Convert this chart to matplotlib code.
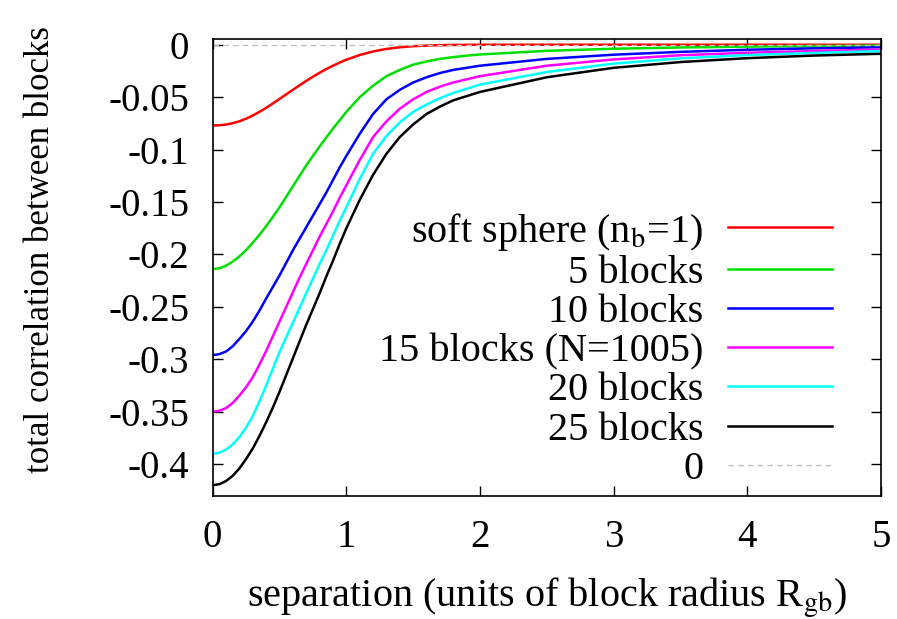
import numpy as np
import matplotlib
matplotlib.use("Agg")
import matplotlib.pyplot as plt

plt.rcParams['font.family'] = ['Liberation Serif', 'DejaVu Serif']
plt.rcParams['mathtext.fontset'] = 'stix'
plt.rcParams['axes.unicode_minus'] = False

# separation in units of block radius R_gb
sep = [0, 0.05, 0.1, 0.15, 0.2, 0.25, 0.3, 0.35, 0.4, 0.45, 0.5, 0.55, 0.6, 0.65,
       0.7, 0.75, 0.8, 0.85, 0.9, 0.95, 1.0,
       1.1, 1.2, 1.3, 1.4, 1.5, 1.6, 1.7, 1.8, 1.9, 2.0,
       2.5, 3.0, 3.5, 4.0, 4.5, 5.0]

soft_sphere = [-0.0770, -0.0768, -0.0761, -0.0748, -0.0730, -0.0705, -0.0675, -0.0640,
               -0.0602, -0.0560, -0.0517, -0.0473, -0.0430, -0.0387, -0.0345, -0.0305,
               -0.0267, -0.0232, -0.0200, -0.0170, -0.0143,
               -0.0098, -0.0064, -0.0040, -0.0024, -0.0014, -0.0008, -0.0004, -0.0002,
               -0.0001, 0,
               0, 0, 0, 0, 0, 0]
blocks_5 = [-0.214, -0.2132, -0.2107, -0.2068, -0.2018, -0.1958, -0.1888, -0.1812,
            -0.1730, -0.1642, -0.155, -0.145, -0.135, -0.125, -0.115, -0.106, -0.097,
            -0.0885, -0.080, -0.072, -0.064,
            -0.050, -0.039, -0.030, -0.024, -0.019, -0.016, -0.0135, -0.0118, -0.0104,
            -0.0093,
            -0.0058, -0.0038, -0.0026, -0.0018, -0.0013, -0.0009]
blocks_10 = [-0.296, -0.295, -0.2925, -0.2875, -0.2805, -0.273, -0.264, -0.2535, -0.242,
             -0.231, -0.220, -0.208, -0.196, -0.185, -0.174, -0.163, -0.152, -0.141,
             -0.129, -0.117, -0.106,
             -0.085, -0.066, -0.052, -0.043, -0.036, -0.031, -0.027, -0.024, -0.022,
             -0.020,
             -0.0135, -0.0095, -0.0068, -0.0048, -0.0034, -0.0024]
blocks_15 = [-0.350, -0.349, -0.3465, -0.3415, -0.3345, -0.3265, -0.317, -0.305, -0.292,
             -0.278, -0.264, -0.250, -0.236, -0.222, -0.209, -0.196, -0.183, -0.171,
             -0.159, -0.146, -0.134,
             -0.110, -0.088, -0.073, -0.061, -0.052, -0.045, -0.040, -0.036, -0.033,
             -0.030,
             -0.020, -0.014, -0.010, -0.0077, -0.006, -0.0046]
blocks_20 = [-0.390, -0.389, -0.386, -0.381, -0.374, -0.365, -0.354, -0.340, -0.325,
             -0.309, -0.293, -0.279, -0.265, -0.251, -0.237, -0.223, -0.209, -0.196,
             -0.182, -0.168, -0.155,
             -0.128, -0.104, -0.087, -0.074, -0.064, -0.057, -0.051, -0.046, -0.042,
             -0.038,
             -0.026, -0.018, -0.013, -0.0098, -0.0078, -0.006]
blocks_25 = [-0.420, -0.419, -0.416, -0.411, -0.404, -0.395, -0.385, -0.373, -0.360,
             -0.346, -0.331, -0.315, -0.299, -0.283, -0.267, -0.252, -0.237, -0.221,
             -0.206, -0.190, -0.175,
             -0.148, -0.124, -0.104, -0.088, -0.076, -0.066, -0.059, -0.053, -0.049,
             -0.045,
             -0.031, -0.022, -0.0165, -0.0128, -0.0103, -0.0086]

series = [soft_sphere, blocks_5, blocks_10, blocks_15, blocks_20, blocks_25]
labels = ["soft sphere (n$_\\mathrm{b}$=1)", "5 blocks", "10 blocks",
          "15 blocks (N=1005)", "20 blocks", "25 blocks"]
colors = ["#ff0000", "#00e000", "#0000ff", "#ff00ff", "#00ffff", "#000000"]

zero_x = [0, 5]
zero_y = [0, 0]

xticks = [0, 1, 2, 3, 4, 5]
yticks = [0, -0.05, -0.1, -0.15, -0.2, -0.25, -0.3, -0.35, -0.4]
ytick_labels = ["0", "-0.05", "-0.1", "-0.15", "-0.2", "-0.25", "-0.3", "-0.35", "-0.4"]

fig = plt.figure(figsize=(8.97, 6.19), dpi=100)
ax = fig.add_axes([0.2371, 0.1992, 0.7451, 0.7370])

for ys, lab, c in zip(series, labels, colors):
    ax.plot(sep, ys, color=c, lw=1.8, label=lab)
ax.plot(zero_x, zero_y, color="#c0c0c0", lw=1.0, ls=(0, (4, 3)), label="0")

ax.set_xlim(0, 5)
ax.set_ylim(-0.43, 0.005)
ax.set_xticks(xticks)
ax.set_yticks(yticks)
ax.set_yticklabels(ytick_labels)
ax.tick_params(direction="in", length=7, width=1.0, labelsize=28, pad=17,
               top=True, right=True)
for s in ax.spines.values():
    s.set_linewidth(1.2)

ax.set_xlabel("separation (units of block radius R$_\\mathrm{gb}$)", fontsize=29)
ax.set_ylabel("total correlation between blocks", fontsize=25)
ax.xaxis.set_label_coords(0.5, -0.176)
ax.yaxis.set_label_coords(-0.233, 0.54)

leg = ax.legend(loc="upper right", bbox_to_anchor=(0.927, 0.625), frameon=False,
                fontsize=29, markerfirst=False, handlelength=2.58,
                handletextpad=0.62, labelspacing=0.05, borderpad=0,
                borderaxespad=0)

fig.savefig("out.png", dpi=100)
